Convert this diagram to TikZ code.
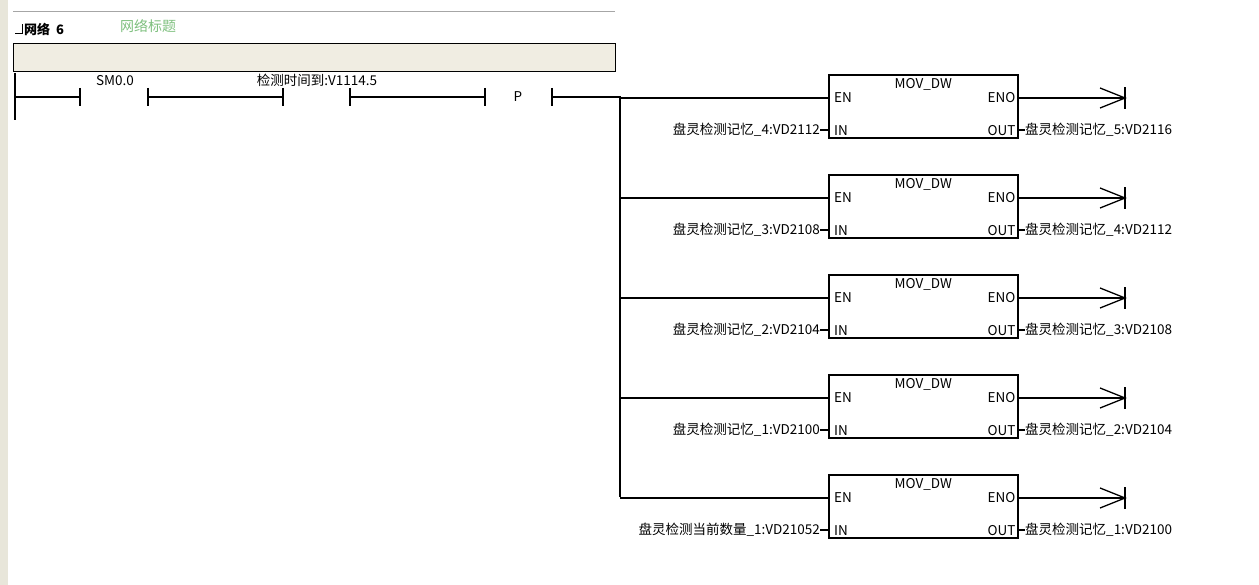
\documentclass[tikz,border=0pt]{standalone}
\usepackage{fontspec}
\setmainfont{Noto Sans CJK SC}
\usetikzlibrary{positioning}
\definecolor{railgray}{HTML}{E8E6DA}
\definecolor{notefill}{HTML}{F0EDE2}
\definecolor{titlegreen}{HTML}{7DBF7D}

\begin{document}
\begin{tikzpicture}[x=1pt,y=-1pt,font=\fontsize{13.5}{14}\selectfont,
        wire/.style={line width=1.6pt},
        bar/.style={line width=1.6pt},
        lbl/.style={inner sep=0pt}]
        % Frame and header
        \useasboundingbox (0,0) rectangle (1259,585);
        \fill[railgray] (0,0) rectangle (8,585);
        \draw[gray!70] (13,11) -- (615,11);
        \draw[line width=0.8pt] (15,33) -- (22,33) -- (22,24);
        \node[lbl,anchor=west,font=\bfseries\fontsize{13}{14}\selectfont] (net) at (24,29) {网络\ \ 6};
        \node[lbl,anchor=west,text=titlegreen,font=\fontsize{14}{15}\selectfont] (title) at (120,26) {网络标题};
        \node[draw=black,fill=notefill,minimum width=602pt,minimum height=28pt,inner sep=0pt,anchor=north west] (note) at (13,43) {};

        % Power rail and contacts
        \draw[bar] (15,73) -- (15,120);
        \coordinate (rail) at (15,97);
        \foreach \x/\n in {80/a,148/b,283/c,350/d,485/e,552/f}
            {\coordinate (\n) at (\x,97);
             \draw[bar] (\x,88) -- (\x,106);}
        \draw[wire] (rail) -- (a) (b) -- (c) (d) -- (e);
        \node[lbl] (sm) at (115,81) {SM0.0};
        \node[lbl] (tm) at (317,80) {检测时间到:V1114.5};
        \node[lbl] (p) at (518,97) {P};

        % Branch
        \coordinate (top) at (620,97);
        \coordinate (bot) at (620,497);
        \draw[wire] (f) -- (top) -- (bot);

        % MOV_DW boxes
        \foreach \i/\src/\dst in {0/盘灵检测记忆\_4:VD2112/盘灵检测记忆\_5:VD2116,
                                   1/盘灵检测记忆\_3:VD2108/盘灵检测记忆\_4:VD2112,
                                   2/盘灵检测记忆\_2:VD2104/盘灵检测记忆\_3:VD2108,
                                   3/盘灵检测记忆\_1:VD2100/盘灵检测记忆\_2:VD2104,
                                   4/盘灵检测当前数量\_1:VD21052/盘灵检测记忆\_1:VD2100}{
            \pgfmathsetmacro{\yy}{74+100*\i}
            \node[draw,line width=1.6pt,minimum width=189pt,minimum height=63pt,inner sep=0pt,anchor=north west] (box\i) at (828,\yy) {};
            \node[lbl,below=4pt of box\i.north] (name\i) {MOV\_DW};
            \node[lbl,anchor=west] (en\i) at ([xshift=6pt,yshift=-24pt]box\i.north west) {EN};
            \node[lbl,anchor=east] (eno\i) at ([xshift=-3pt,yshift=-24pt]box\i.north east) {ENO};
            \node[lbl,anchor=west] (in\i) at ([xshift=6pt,yshift=8pt]box\i.south west) {IN};
            \node[lbl,anchor=east] (out\i) at ([xshift=-3pt,yshift=8pt]box\i.south east) {OUT};
            \coordinate (tap\i) at (620,\yy+24);
            \draw[wire] (tap\i) -- (box\i.north west |- tap\i);
            \coordinate (end\i) at (1125,\yy+24);
            \draw[wire] (box\i.north east |- tap\i) -- (end\i);
            \draw[line width=1.3pt] ([xshift=-25pt,yshift=-10pt]end\i) -- (end\i) -- ([xshift=-25pt,yshift=10pt]end\i);
            \draw[bar] ([yshift=-11pt]end\i) -- ([yshift=11pt]end\i);
            \node[lbl,anchor=east] (src\i) at (820,\yy+56) {\src};
            \draw[wire] (src\i.east) -- (box\i.south west |- src\i.east);
            \node[lbl,anchor=west] (dst\i) at (1025,\yy+56) {\dst};
            \draw[wire] (box\i.south east |- dst\i.west) -- (dst\i.west);
        }
\end{tikzpicture}
\end{document}
